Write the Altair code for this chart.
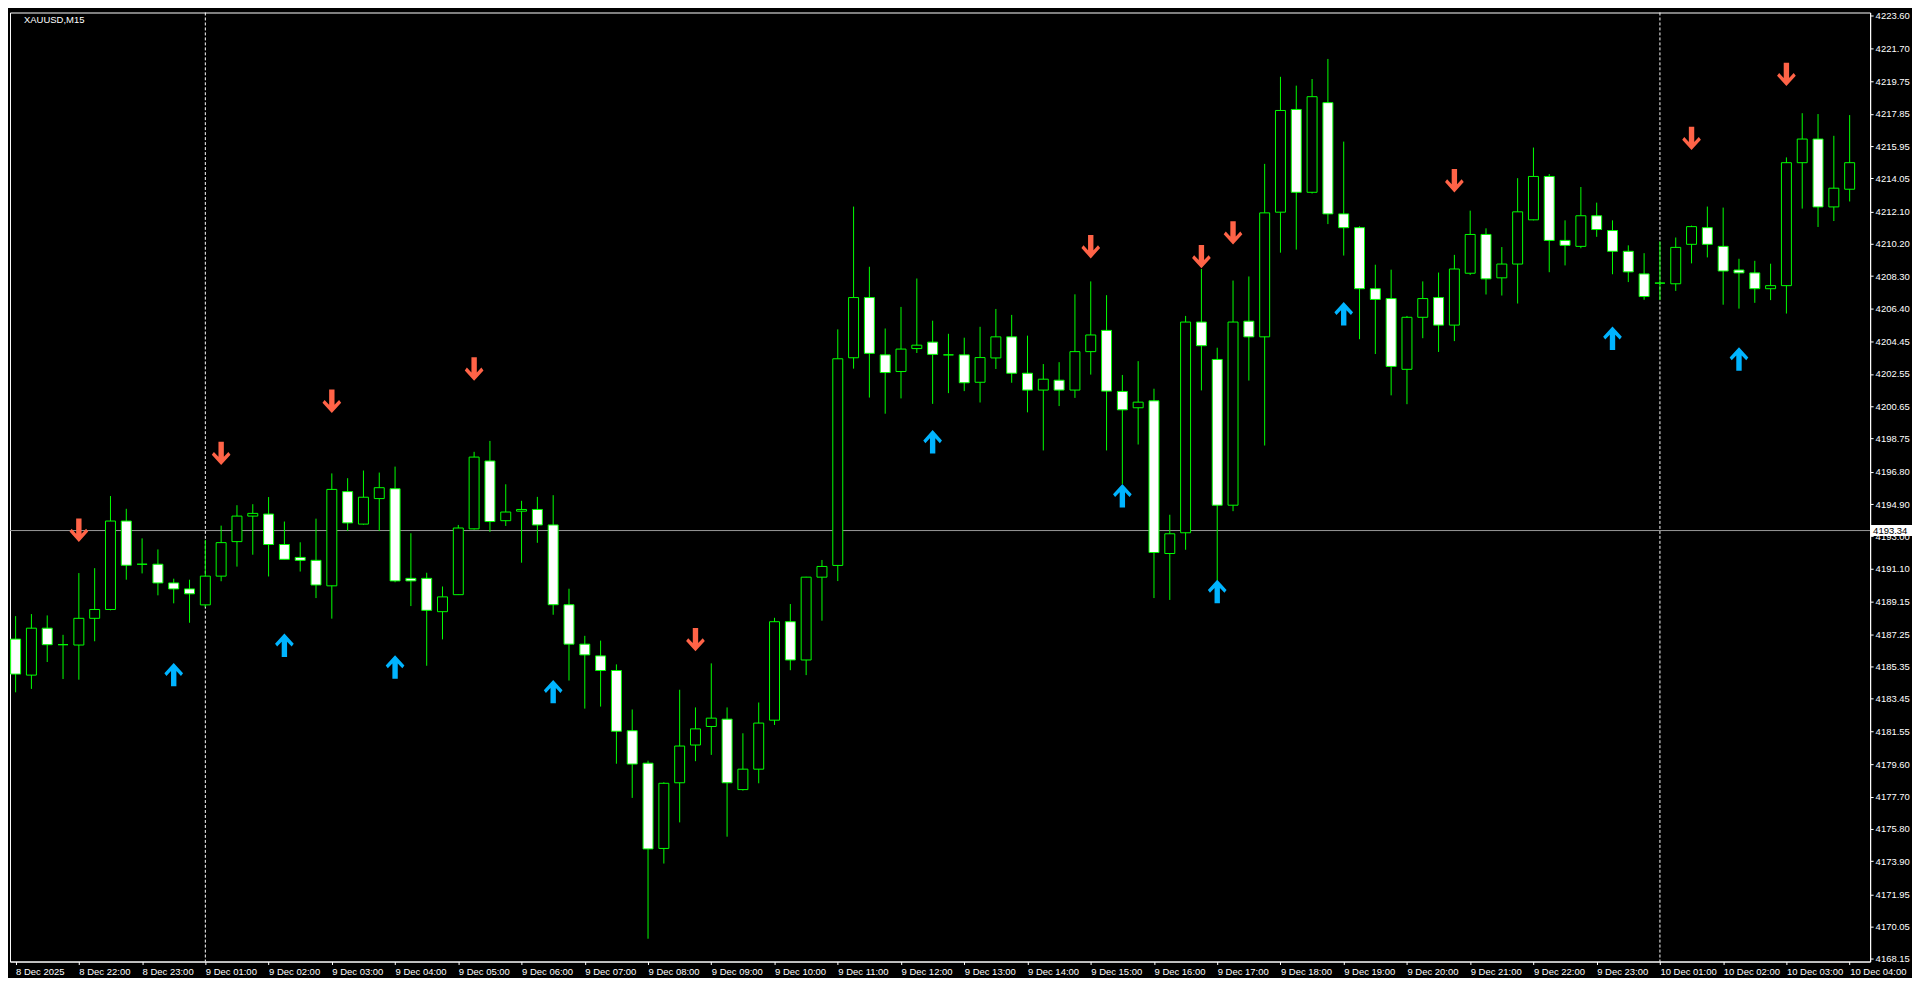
import json
import altair as alt
import pandas as pd

# ---------------- data (XAUUSD M15) ----------------
bar_index = list(range(117))
opens = [4186.96, 4184.84, 4187.60, 4186.63, 4186.61, 4188.18, 4188.70, 4193.90, 4191.36, 4191.36,
         4190.26, 4189.91, 4188.97, 4190.66, 4192.69, 4194.19, 4194.31, 4192.52, 4191.76, 4191.59,
         4190.09, 4195.63, 4193.72, 4195.22, 4195.80, 4190.53, 4190.53, 4188.57, 4189.57, 4193.44,
         4197.43, 4193.92, 4194.48, 4194.58, 4193.67, 4188.98, 4186.66, 4185.97, 4185.11, 4181.57,
         4179.66, 4174.65, 4178.51, 4180.73, 4181.82, 4182.25, 4178.11, 4179.31, 4182.19, 4187.98,
         4185.73, 4190.60, 4191.29, 4203.50, 4207.04, 4203.67, 4202.69, 4204.04, 4204.42, 4203.67,
         4203.67, 4202.06, 4203.49, 4204.73, 4202.59, 4201.60, 4202.18, 4201.60, 4203.86, 4205.11,
         4201.52, 4200.56, 4200.97, 4191.99, 4193.21, 4205.60, 4203.40, 4194.83, 4205.65, 4204.73,
         4212.06, 4218.10, 4213.23, 4218.50, 4211.96, 4211.15, 4207.56, 4206.98, 4202.82, 4205.88,
         4207.04, 4205.42, 4208.47, 4210.75, 4208.20, 4209.01, 4211.61, 4214.16, 4210.40, 4210.05,
         4211.85, 4210.98, 4209.76, 4208.43, 4207.89, 4207.85, 4210.17, 4211.15, 4210.05, 4208.66,
         4208.49, 4207.56, 4207.74, 4214.97, 4216.36, 4212.37, 4213.41]
highs = [4188.31, 4188.43, 4188.35, 4187.21, 4190.84, 4191.13, 4195.37, 4194.62, 4192.88, 4192.23,
         4190.51, 4190.45, 4192.79, 4193.63, 4194.83, 4194.89, 4195.31, 4193.87, 4192.65, 4194.04,
         4196.70, 4196.42, 4196.87, 4196.75, 4197.10, 4193.18, 4190.86, 4190.05, 4193.67, 4197.97,
         4198.61, 4196.06, 4195.09, 4195.32, 4195.42, 4189.92, 4187.15, 4186.87, 4185.47, 4182.82,
         4179.81, 4178.54, 4183.98, 4182.94, 4185.53, 4182.94, 4181.42, 4183.23, 4188.21, 4189.02,
         4190.62, 4191.61, 4205.17, 4212.39, 4208.85, 4205.22, 4206.49, 4208.16, 4205.68, 4204.91,
         4204.68, 4205.32, 4206.37, 4206.02, 4204.80, 4203.13, 4203.24, 4207.23, 4207.99, 4207.18,
         4202.49, 4203.30, 4201.68, 4194.27, 4205.96, 4208.72, 4204.09, 4208.04, 4208.28, 4214.90,
         4220.02, 4219.50, 4219.89, 4221.07, 4216.21, 4211.23, 4208.97, 4208.68, 4205.96, 4207.99,
         4208.51, 4209.55, 4212.15, 4211.11, 4210.01, 4214.06, 4215.86, 4214.30, 4211.58, 4213.54,
         4212.62, 4211.58, 4210.11, 4209.65, 4210.34, 4210.57, 4211.27, 4212.39, 4212.33, 4209.32,
         4209.20, 4209.03, 4215.28, 4217.88, 4217.83, 4216.55, 4217.77]
lows = [4183.83, 4184.03, 4185.61, 4184.61, 4184.57, 4186.83, 4188.65, 4190.45, 4190.82, 4189.53,
        4189.06, 4187.92, 4188.85, 4190.36, 4191.22, 4191.92, 4190.64, 4191.65, 4190.93, 4189.37,
        4188.16, 4193.31, 4193.68, 4193.31, 4190.30, 4188.90, 4185.39, 4186.94, 4189.55, 4193.40,
        4193.26, 4193.61, 4191.45, 4192.62, 4188.39, 4184.52, 4182.87, 4182.99, 4179.63, 4177.62,
        4169.34, 4173.76, 4176.18, 4179.78, 4180.15, 4175.34, 4178.05, 4178.48, 4181.91, 4185.13,
        4184.84, 4188.04, 4190.37, 4202.86, 4201.16, 4200.21, 4201.11, 4203.78, 4200.79, 4201.42,
        4201.54, 4200.87, 4202.84, 4202.03, 4200.29, 4198.05, 4200.66, 4201.14, 4202.51, 4198.05,
        4196.08, 4198.40, 4189.37, 4189.26, 4192.21, 4201.58, 4190.39, 4194.48, 4202.16, 4198.34,
        4209.68, 4209.86, 4213.16, 4211.36, 4209.51, 4204.59, 4203.72, 4201.29, 4200.77, 4204.65,
        4203.84, 4204.48, 4208.37, 4207.22, 4207.16, 4206.69, 4211.58, 4208.53, 4208.93, 4209.94,
        4210.61, 4208.41, 4207.95, 4206.91, 4206.89, 4207.43, 4209.05, 4209.40, 4206.62, 4206.39,
        4206.73, 4206.89, 4206.10, 4212.27, 4211.19, 4211.54, 4212.69]
closes = [4184.90, 4187.60, 4186.63, 4186.63, 4188.18, 4188.70, 4193.90, 4191.30, 4191.36, 4190.26,
          4189.91, 4189.62, 4190.66, 4192.63, 4194.19, 4194.35, 4192.52, 4191.65, 4191.59, 4190.14,
          4195.76, 4193.79, 4195.30, 4195.86, 4190.38, 4190.38, 4188.65, 4189.44, 4193.49, 4197.66,
          4193.87, 4194.43, 4194.58, 4193.67, 4188.98, 4186.66, 4186.03, 4185.11, 4181.54, 4179.61,
          4174.62, 4178.48, 4180.67, 4181.68, 4182.31, 4178.51, 4179.31, 4182.02, 4187.98, 4185.73,
          4190.60, 4191.23, 4203.44, 4207.04, 4203.76, 4202.63, 4204.01, 4204.24, 4203.70, 4203.67,
          4202.03, 4203.51, 4204.73, 4202.59, 4201.60, 4202.24, 4201.60, 4203.86, 4204.84, 4201.54,
          4200.44, 4200.89, 4192.05, 4193.15, 4205.60, 4204.21, 4194.83, 4205.60, 4204.73, 4212.02,
          4218.04, 4213.23, 4218.85, 4211.96, 4211.15, 4207.56, 4206.93, 4202.99, 4205.88, 4206.98,
          4205.42, 4208.72, 4210.75, 4208.14, 4209.01, 4212.08, 4214.16, 4210.40, 4210.11, 4211.85,
          4211.04, 4209.76, 4208.55, 4207.10, 4207.89, 4209.99, 4211.21, 4210.17, 4208.60, 4208.49,
          4207.56, 4207.74, 4214.97, 4216.36, 4212.37, 4213.47, 4214.97]

x_tick_index = list(range(0, 117, 4))
x_tick_labels = (["8 Dec 2025", "8 Dec 22:00", "8 Dec 23:00"]
                 + ["9 Dec %02d:00" % h for h in range(1, 24)]
                 + ["10 Dec %02d:00" % h for h in range(1, 5)])
y_tick_values = [4223.60, 4221.70, 4219.75, 4217.85, 4215.95, 4214.05, 4212.10, 4210.20, 4208.30,
                 4206.40, 4204.45, 4202.55, 4200.65, 4198.75, 4196.80, 4194.90, 4193.00, 4191.10,
                 4189.15, 4187.25, 4185.35, 4183.45, 4181.55, 4179.60, 4177.70, 4175.80, 4173.90,
                 4171.95, 4170.05, 4168.15]

sell_index = [4, 13, 20, 29, 43, 68, 75, 77, 91, 106, 112]
sell_price = [4193.36, 4197.88, 4200.94, 4202.84, 4186.93, 4210.03, 4209.45, 4210.84, 4213.91,
              4216.40, 4220.16]
buy_index = [10, 17, 24, 34, 58, 70, 76, 84, 101, 109]
buy_price = [4184.87, 4186.60, 4185.32, 4183.87, 4198.56, 4195.39, 4189.76, 4206.09, 4204.65,
             4203.43]

separator_index = [12, 104]
line_price = [4193.34]
symbol_label = ["XAUUSD,M15"]

# ---------------- chart ----------------
W, H = 1866, 952
FONT = "Liberation Sans"
GREEN = "#00FF00"

candles = pd.DataFrame({"idx": bar_index, "open": opens, "high": highs,
                        "low": lows, "close": closes})
sells = pd.DataFrame({"idx": sell_index, "price": sell_price})
buys = pd.DataFrame({"idx": buy_index, "price": buy_price})
seps = pd.DataFrame({"idx": separator_index})
hline = pd.DataFrame({"price": line_price, "label": ["%.2f" % p for p in line_price]})
sym = pd.DataFrame({"t": symbol_label})

xscale = alt.Scale(domain=[-0.04, 116.98], nice=False, zero=False)
yscale = alt.Scale(domain=[4168.00, 4223.80], nice=False, zero=False)

label_expr = json.dumps(x_tick_labels) + "[round(datum.value / 4)]"

x_axis = alt.Axis(values=x_tick_index, labelExpr=label_expr, orient="bottom", grid=False,
                  domainColor="white", tickColor="white", tickSize=3, labelColor="white",
                  labelFont=FONT, labelFontSize=9.5, labelAlign="left", labelPadding=2,
                  labelOverlap=False, labelFlush=False, labelBound=False, title=None)
y_axis = alt.Axis(values=y_tick_values, format=".2f", orient="right", grid=False,
                  domainColor="white", tickColor="white", tickSize=3, labelColor="white",
                  labelFont=FONT, labelFontSize=9.5, labelPadding=2, labelOverlap=False,
                  labelFlush=False, title=None)


def X():
    return alt.X("idx:Q", scale=xscale, axis=x_axis, title=None)


def Y(field):
    return alt.Y(field, scale=yscale, axis=y_axis, title=None)


wicks = alt.Chart(candles).mark_rule(color=GREEN, strokeWidth=1, clip=True).encode(
    x=X(), y=Y("low:Q"), y2="high:Q",
)

bodies = alt.Chart(candles).mark_bar(size=10, stroke=GREEN, strokeWidth=1, clip=True).encode(
    x=X(), y=Y("open:Q"), y2="close:Q",
    fill=alt.condition("datum.close >= datum.open", alt.value("black"), alt.value("white")),
)

sep_rules = alt.Chart(seps).mark_rule(color="white", strokeDash=[3, 2], strokeWidth=1).encode(x=X())

price_rule = alt.Chart(hline).mark_rule(color="#9A9A9A", strokeWidth=1).encode(y=Y("price:Q"))

DOWN = ("M -0.23 -1 L 0.23 -1 L 0.23 0.3 L 0.62 -0.12 L 0.8 0.12 L 0 1 "
        "L -0.8 0.12 L -0.62 -0.12 L -0.23 0.3 Z")
UP = ("M -0.23 1 L 0.23 1 L 0.23 -0.3 L 0.62 0.12 L 0.8 -0.12 L 0 -1 "
      "L -0.8 -0.12 L -0.62 0.12 L -0.23 -0.3 Z")

sell_marks = alt.Chart(sells).mark_point(shape=DOWN, filled=True, size=550, opacity=1,
                                         color="#FF6347", strokeWidth=0).encode(
    x=X(), y=Y("price:Q"))
buy_marks = alt.Chart(buys).mark_point(shape=UP, filled=True, size=550, opacity=1,
                                       color="#00B4FF", strokeWidth=0).encode(
    x=X(), y=Y("price:Q"))

BOX = "M -1 -0.26 L 1 -0.26 L 1 0.26 L -1 0.26 Z"
price_box = alt.Chart(hline).mark_point(shape=BOX, filled=True, size=42 * 42, opacity=1,
                                        color="white", strokeWidth=0).encode(
    x=alt.value(W + 21), y=Y("price:Q"))
price_text = alt.Chart(hline).mark_text(align="left", baseline="middle", font=FONT,
                                        fontSize=9.5, color="black").encode(
    x=alt.value(W + 3), y=Y("price:Q"), text="label:N")

sym_text = alt.Chart(sym).mark_text(align="left", baseline="middle", font=FONT, fontSize=9.5,
                                    color="white").encode(
    x=alt.value(14), y=alt.value(8), text="t:N")

chart = alt.layer(
    sep_rules, price_rule, wicks, bodies, sell_marks, buy_marks, price_box, price_text, sym_text
).properties(
    width=W, height=H, background="black",
    padding={"left": 1, "top": 1, "right": 0, "bottom": 0},
).configure_view(stroke="white", strokeWidth=1)

chart.save("out.html", embed_options={"renderer": "svg", "actions": False})
